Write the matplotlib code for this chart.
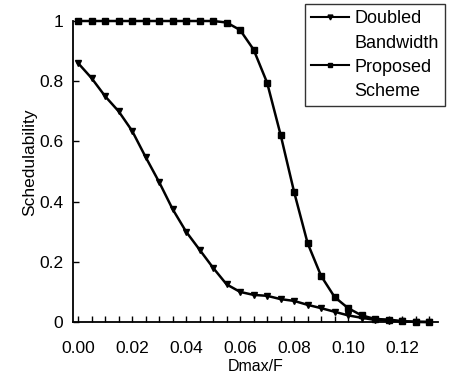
import matplotlib
matplotlib.use("Agg")
import matplotlib.pyplot as plt
from matplotlib.ticker import MultipleLocator, FixedLocator
from matplotlib.lines import Line2D

plt.rcParams['font.family'] = ['Liberation Sans', 'DejaVu Sans']

x_doubled = [0.000, 0.005, 0.010, 0.015, 0.020, 0.025, 0.030, 0.035, 0.040, 0.045,
             0.050, 0.055, 0.060, 0.065, 0.070, 0.075, 0.080, 0.085, 0.090, 0.095,
             0.100, 0.105, 0.110, 0.115, 0.120, 0.125, 0.130]
y_doubled = [0.86, 0.81, 0.75, 0.70, 0.635, 0.548, 0.465, 0.375, 0.30, 0.24,
             0.18, 0.125, 0.10, 0.09, 0.087, 0.076, 0.07, 0.057, 0.046, 0.034,
             0.022, 0.014, 0.007, 0.004, 0.002, 0.001, 0.0]

x_proposed = x_doubled
y_proposed = [1.0, 1.0, 1.0, 1.0, 1.0, 1.0, 1.0, 1.0, 1.0, 1.0,
              1.0, 0.995, 0.97, 0.905, 0.795, 0.622, 0.432, 0.262, 0.153, 0.083,
              0.046, 0.022, 0.01, 0.008, 0.003, 0.0, 0.0]

x_ticks = [0.00, 0.02, 0.04, 0.06, 0.08, 0.10, 0.12]
x_ticklabels = ["0.00", "0.02", "0.04", "0.06", "0.08", "0.10", "0.12"]
y_ticks = [0, 0.2, 0.4, 0.6, 0.8, 1.0]
y_ticklabels = ["0", "0.2", "0.4", "0.6", "0.8", "1"]

fig = plt.figure(figsize=(4.54, 3.80), dpi=100)
ax = fig.add_axes([73/454, 58/380, 365/454, 301/380])

l1, = ax.plot(x_doubled, y_doubled, color='black', lw=1.8, marker='v', ms=4,
              clip_on=False, zorder=3)
l2, = ax.plot(x_proposed, y_proposed, color='black', lw=1.8, marker='s', ms=4,
              clip_on=False, zorder=3)

ax.set_xlim(-0.0019, 0.1333)
ax.set_ylim(0, 1.0)
ax.spines['top'].set_visible(False)
ax.spines['right'].set_visible(False)
ax.spines['left'].set_linewidth(1.3)
ax.spines['bottom'].set_linewidth(1.3)

ax.xaxis.set_major_locator(FixedLocator(x_ticks))
ax.set_xticklabels(x_ticklabels)
ax.xaxis.set_minor_locator(MultipleLocator(0.005))
ax.yaxis.set_major_locator(FixedLocator(y_ticks))
ax.set_yticklabels(y_ticklabels)
ax.tick_params(axis='both', which='both', direction='in', length=4, width=1,
               labelsize=12.5, colors='black')
ax.tick_params(axis='x', pad=14)
ax.tick_params(axis='y', pad=7)

ax.set_xlabel('Dmax/F', fontsize=11.5, labelpad=2)
ax.set_ylabel('Schedulability', fontsize=12.5)
ax.yaxis.set_label_coords(-0.099, 0.53)

blank = Line2D([], [], linestyle='none')
h1 = Line2D([], [], color='black', lw=1.5, marker='v', ms=3.5)
h2 = Line2D([], [], color='black', lw=1.5, marker='s', ms=3.5)
leg = ax.legend([h1, blank, h2, blank],
                ['Doubled', 'Bandwidth', 'Proposed', 'Scheme'],
                loc='upper left', bbox_to_anchor=(305/454, 1 - 4/380),
                bbox_transform=fig.transFigure, frameon=True, fancybox=False,
                edgecolor='black', fontsize=13, handlelength=2.1,
                borderpad=0.35, labelspacing=0.4, handletextpad=0.3,
                borderaxespad=0)
leg.get_frame().set_linewidth(1.0)

fig.savefig('out.png', dpi=100)
